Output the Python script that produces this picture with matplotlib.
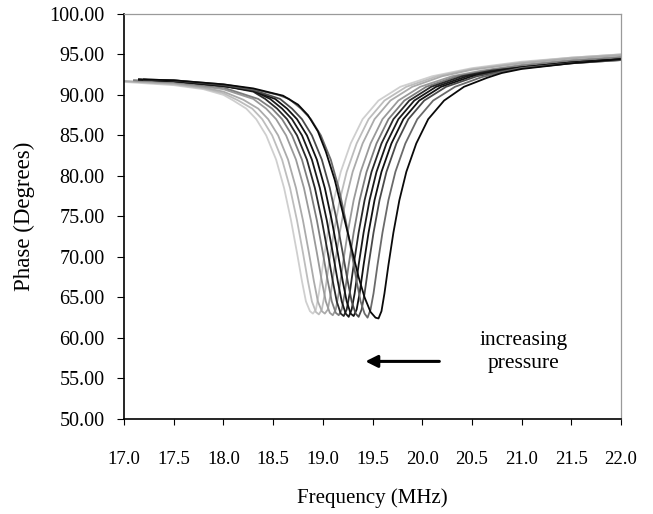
import matplotlib
matplotlib.use("Agg")
import matplotlib.pyplot as plt

# ---- data: (frequency MHz, phase deg) per curve ----
curve1_f = [17.0, 17.5, 17.8, 18.0, 18.1, 18.23, 18.33, 18.43, 18.53, 18.61, 18.68, 18.74, 18.79, 18.83, 18.87, 18.90, 18.93, 18.96, 19.00, 19.05, 19.11, 19.18, 19.28, 19.40, 19.56, 19.78, 20.1, 20.5, 21.0, 21.5, 22.0]
curve1_p = [91.6, 91.2, 90.7, 90.0, 89.3, 88.3, 87.0, 85.0, 82.0, 78.5, 74.5, 70.5, 67.0, 64.5, 63.3, 63.0, 63.5, 65.5, 69.0, 73.0, 77.0, 80.5, 84.0, 87.0, 89.3, 91.0, 92.3, 93.3, 94.1, 94.6, 95.0]

curve2_f = [17.0, 17.5, 17.8, 18.0, 18.15, 18.29, 18.39, 18.49, 18.59, 18.67, 18.74, 18.80, 18.85, 18.89, 18.93, 18.96, 18.99, 19.02, 19.06, 19.11, 19.17, 19.24, 19.34, 19.46, 19.62, 19.84, 20.15, 20.5, 21.0, 21.5, 22.0]
curve2_p = [91.7, 91.3, 90.8, 90.2, 89.3, 88.3, 87.0, 85.0, 82.0, 78.5, 74.5, 70.5, 67.0, 64.5, 63.2, 62.9, 63.5, 65.5, 69.0, 73.0, 77.0, 80.5, 84.0, 87.0, 89.3, 91.0, 92.3, 93.2, 94.0, 94.6, 95.0]

curve3_f = [17.0, 17.5, 17.8, 18.0, 18.2, 18.35, 18.45, 18.55, 18.65, 18.73, 18.80, 18.86, 18.91, 18.95, 18.99, 19.02, 19.05, 19.08, 19.12, 19.17, 19.23, 19.30, 19.40, 19.52, 19.68, 19.90, 20.2, 20.5, 21.0, 21.5, 22.0]
curve3_p = [91.7, 91.4, 90.9, 90.4, 89.4, 88.3, 87.0, 85.0, 82.0, 78.5, 74.5, 70.5, 67.0, 64.5, 63.3, 63.0, 63.5, 65.5, 69.0, 73.0, 77.0, 80.5, 84.0, 87.0, 89.3, 91.0, 92.3, 93.1, 93.9, 94.5, 94.9]

curve4_f = [17.1, 17.5, 18.0, 18.3, 18.43, 18.53, 18.63, 18.73, 18.81, 18.88, 18.94, 18.99, 19.03, 19.07, 19.10, 19.13, 19.16, 19.20, 19.25, 19.31, 19.38, 19.48, 19.60, 19.76, 19.98, 20.3, 20.6, 21.0, 21.5, 22.0]
curve4_p = [91.8, 91.5, 90.7, 89.5, 88.3, 87.0, 85.0, 82.0, 78.5, 74.5, 70.5, 67.0, 64.5, 63.1, 62.8, 63.5, 65.5, 69.0, 73.0, 77.0, 80.5, 84.0, 87.0, 89.3, 91.0, 92.3, 93.0, 93.7, 94.3, 94.7]

curve5_f = [17.1, 17.5, 18.0, 18.35, 18.49, 18.59, 18.69, 18.79, 18.87, 18.94, 19.00, 19.05, 19.09, 19.13, 19.16, 19.19, 19.22, 19.26, 19.31, 19.37, 19.44, 19.54, 19.66, 19.82, 20.04, 20.35, 20.7, 21.0, 21.5, 22.0]
curve5_p = [91.8, 91.6, 90.9, 89.5, 88.3, 87.0, 85.0, 82.0, 78.5, 74.5, 70.5, 67.0, 64.5, 63.1, 62.8, 63.5, 65.5, 69.0, 73.0, 77.0, 80.5, 84.0, 87.0, 89.3, 91.0, 92.3, 93.1, 93.6, 94.2, 94.6]

curve6_f = [17.15, 17.5, 18.0, 18.3, 18.42, 18.54, 18.64, 18.74, 18.84, 18.92, 18.99, 19.05, 19.10, 19.14, 19.18, 19.21, 19.24, 19.27, 19.31, 19.36, 19.42, 19.49, 19.59, 19.71, 19.87, 20.09, 20.4, 20.7, 21.0, 21.5, 22.0]
curve6_p = [91.9, 91.7, 91.1, 90.4, 89.5, 88.3, 87.0, 85.0, 82.0, 78.5, 74.5, 70.5, 67.0, 64.5, 63.0, 62.7, 63.5, 65.5, 69.0, 73.0, 77.0, 80.5, 84.0, 87.0, 89.3, 91.0, 92.3, 93.0, 93.4, 94.0, 94.4]

curve7_f = [17.15, 17.5, 18.0, 18.3, 18.47, 18.59, 18.69, 18.79, 18.89, 18.97, 19.04, 19.10, 19.15, 19.19, 19.23, 19.26, 19.29, 19.32, 19.36, 19.41, 19.47, 19.54, 19.64, 19.76, 19.92, 20.14, 20.45, 20.8, 21.0, 21.5, 22.0]
curve7_p = [91.9, 91.7, 91.1, 90.5, 89.5, 88.3, 87.0, 85.0, 82.0, 78.5, 74.5, 70.5, 67.0, 64.5, 63.0, 62.6, 63.5, 65.5, 69.0, 73.0, 77.0, 80.5, 84.0, 87.0, 89.3, 91.0, 92.3, 93.1, 93.4, 94.0, 94.4]

curve8_f = [17.15, 17.5, 18.0, 18.3, 18.52, 18.64, 18.74, 18.84, 18.94, 19.02, 19.09, 19.15, 19.20, 19.24, 19.28, 19.31, 19.34, 19.37, 19.41, 19.46, 19.52, 19.59, 19.69, 19.81, 19.97, 20.19, 20.5, 20.8, 21.0, 21.5, 22.0]
curve8_p = [91.9, 91.7, 91.1, 90.5, 89.5, 88.3, 87.0, 85.0, 82.0, 78.5, 74.5, 70.5, 67.0, 64.5, 63.0, 62.7, 63.5, 65.5, 69.0, 73.0, 77.0, 80.5, 84.0, 87.0, 89.3, 91.0, 92.3, 93.0, 93.4, 94.0, 94.4]

curve9_f = [17.2, 17.5, 18.0, 18.3, 18.57, 18.69, 18.79, 18.89, 18.99, 19.07, 19.14, 19.20, 19.25, 19.29, 19.33, 19.36, 19.39, 19.42, 19.46, 19.51, 19.57, 19.64, 19.74, 19.86, 20.02, 20.24, 20.55, 20.8, 21.0, 21.5, 22.0]
curve9_p = [91.9, 91.8, 91.2, 90.6, 89.5, 88.3, 87.0, 85.0, 82.0, 78.5, 74.5, 70.5, 67.0, 64.5, 63.0, 62.6, 63.5, 65.5, 69.0, 73.0, 77.0, 80.5, 84.0, 87.0, 89.3, 91.0, 92.3, 92.9, 93.3, 93.9, 94.3]

curve10_f = [17.2, 17.5, 18.0, 18.3, 18.55, 18.66, 18.78, 18.88, 18.98, 19.08, 19.16, 19.23, 19.29, 19.34, 19.38, 19.42, 19.45, 19.48, 19.51, 19.55, 19.60, 19.66, 19.73, 19.83, 19.95, 20.11, 20.33, 20.6, 20.8, 21.0, 21.5, 22.0]
curve10_p = [91.9, 91.8, 91.3, 90.7, 90.0, 89.5, 88.3, 87.0, 85.0, 82.0, 78.5, 74.5, 70.5, 67.0, 64.5, 63.0, 62.5, 63.5, 65.5, 69.0, 73.0, 77.0, 80.5, 84.0, 87.0, 89.3, 91.0, 92.2, 92.8, 93.3, 93.9, 94.3]

curve11_f = [17.2, 17.5, 18.0, 18.3, 18.6, 18.75, 18.85, 18.95, 19.03, 19.12, 19.21, 19.29, 19.36, 19.42, 19.48, 19.53, 19.56, 19.59, 19.62, 19.66, 19.71, 19.77, 19.84, 19.94, 20.06, 20.22, 20.42, 20.65, 20.8, 21.0, 21.5, 22.0]
curve11_p = [91.9, 91.8, 91.3, 90.8, 89.9, 88.8, 87.5, 85.5, 83.0, 79.5, 75.0, 71.0, 67.5, 65.0, 63.2, 62.5, 62.4, 63.3, 65.5, 69.0, 73.0, 77.0, 80.5, 84.0, 87.0, 89.3, 91.0, 92.1, 92.7, 93.2, 93.9, 94.4]

curve_freqs = [curve1_f, curve2_f, curve3_f, curve4_f, curve5_f, curve6_f,
               curve7_f, curve8_f, curve9_f, curve10_f, curve11_f]
curve_phases = [curve1_p, curve2_p, curve3_p, curve4_p, curve5_p, curve6_p,
                curve7_p, curve8_p, curve9_p, curve10_p, curve11_p]
curve_colors = ['#cfcfcf', '#bdbdbd', '#ababab', '#9a9a9a', '#7d7d7d', '#2a2a2a',
                '#1a1a1a', '#111111', '#4a4a4a', '#6a6a6a', '#0a0a0a']

x_ticks = [17.0, 17.5, 18.0, 18.5, 19.0, 19.5, 20.0, 20.5, 21.0, 21.5, 22.0]
y_ticks = [50, 55, 60, 65, 70, 75, 80, 85, 90, 95, 100]

plt.rcParams['font.family'] = ['Liberation Serif', 'DejaVu Serif']

fig = plt.figure(figsize=(6.53, 5.14), dpi=100)
ax = fig.add_axes([0.19, 0.185, 0.761, 0.788])

for f, p, c in zip(curve_freqs, curve_phases, curve_colors):
    ax.plot(f, p, color=c, lw=1.3, solid_joinstyle='round')

ax.set_xlim(17.0, 22.0)
ax.set_ylim(50, 100)
ax.set_xticks(x_ticks)
ax.set_xticklabels([f"{v:.1f}" for v in x_ticks])
ax.set_yticks(y_ticks)
ax.set_yticklabels([f"{v:.2f}" for v in y_ticks])
ax.tick_params(axis='x', direction='out', length=4, width=0.8, pad=19, labelsize=13.5)
ax.tick_params(axis='y', direction='out', length=5, width=0.8, pad=9, labelsize=14.5)

for s in ['top', 'right']:
    ax.spines[s].set_color('#9a9a9a')
    ax.spines[s].set_linewidth(0.9)
for s in ['left', 'bottom']:
    ax.spines[s].set_color('black')
    ax.spines[s].set_linewidth(1.2)

ax.set_xlabel('Frequency (MHz)', fontsize=15, labelpad=15)
ax.set_ylabel('Phase (Degrees)', fontsize=16.5, labelpad=10)

ax.annotate('', xy=(19.4, 57.1), xytext=(20.2, 57.1),
            arrowprops=dict(arrowstyle='-|>', lw=2.2, color='black', mutation_scale=18))
ax.text(21.02, 58.3, 'increasing\npressure', ha='center', va='center',
        fontsize=15.5, linespacing=1.3)

fig.savefig('out.png', dpi=100)
